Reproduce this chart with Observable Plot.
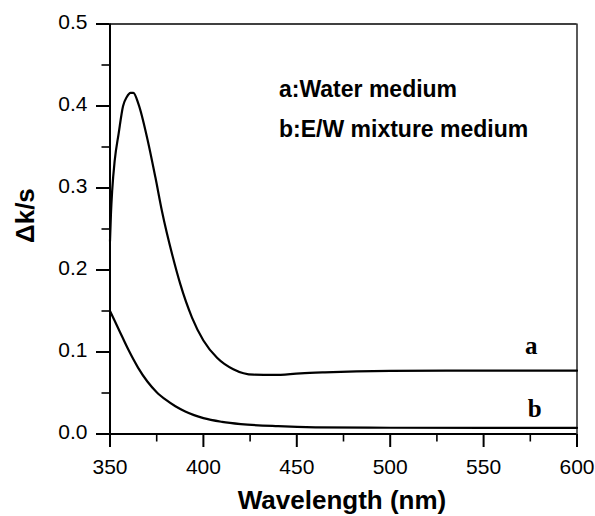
<!DOCTYPE html>
<html>
<head>
<meta charset="utf-8">
<script src="https://cdn.jsdelivr.net/npm/d3@7"></script>
<script src="https://cdn.jsdelivr.net/npm/@observablehq/plot@0.6"></script>
<style>
  html, body { margin: 0; padding: 0; background: #fff; }
  #chart svg { display: block; }
</style>
</head>
<body>
<div id="chart"></div>
<script>
// Curve a: water medium
const waveA = [350, 350.5, 351.2, 352.5, 354.6, 357, 359, 361, 362.5, 365.3, 369.8, 374.3, 377.8, 383.5, 387.6, 393.9, 400, 407.3, 416, 427, 437.6, 452, 465, 482, 500, 530, 600];
const valA  = [0.235, 0.268, 0.298, 0.333, 0.366, 0.400, 0.411, 0.416, 0.416, 0.402, 0.362, 0.313, 0.272, 0.217, 0.183, 0.142, 0.114, 0.093, 0.079, 0.0723, 0.072, 0.074, 0.0752, 0.0764, 0.0770, 0.0772, 0.0772];
// Curve b: E/W mixture medium
const waveB = [350, 355, 360, 365, 370, 375, 380, 385, 390, 395, 400, 410, 420, 440, 460, 500, 600];
const valB  = [0.150, 0.126, 0.102, 0.081, 0.064, 0.051, 0.0415, 0.0338, 0.0278, 0.0230, 0.0193, 0.0148, 0.0121, 0.0095, 0.0082, 0.0076, 0.0074];

const xDomain = [350, 600];
const yDomain = [0, 0.5];
const xTicks = [350, 400, 450, 500, 550, 600];
const xMinor = [375, 425, 475, 525, 575];
const yTicks = [0, 0.1, 0.2, 0.3, 0.4, 0.5];
const yMinor = [0.05, 0.15, 0.25, 0.35, 0.45];

const xTitle = "Wavelength (nm)";
const yTitle = "\u0394k/s";
const legendLines = ["a:Water medium", "b:E/W mixture medium"];
const curveLabels = ["a", "b"];

const dataA = waveA.map((w, i) => ({w, v: valA[i]}));
const dataB = waveB.map((w, i) => ({w, v: valB[i]}));

const sans = "'Liberation Sans', Arial, Helvetica, sans-serif";
const serif = "'Liberation Serif', 'Times New Roman', serif";

const W = 595, H = 516, mL = 109.5, mR = 18.5, mT = 23.5, mB = 82.5;
// data units per pixel, so tick lengths can be given in pixels
const ky = (yDomain[1] - yDomain[0]) / (H - mT - mB);
const kx = (xDomain[1] - xDomain[0]) / (W - mL - mR);
const majorLen = 13.5, minorLen = 8;

const chart = Plot.plot({
  width: W,
  height: H,
  marginLeft: mL,
  marginRight: mR,
  marginTop: mT,
  marginBottom: mB,
  style: {fontFamily: sans, fontSize: "21px", color: "#000", background: "#fff"},
  x: {domain: xDomain, label: null},
  y: {domain: yDomain, label: null},
  marks: [
    // tick marks (outward), drawn as rules in data units
    Plot.ruleX(xTicks, {x: d => d, y1: yDomain[0], y2: yDomain[0] - majorLen * ky, stroke: "#000", strokeWidth: 2}),
    Plot.ruleX(xMinor, {x: d => d, y1: yDomain[0], y2: yDomain[0] - minorLen * ky, stroke: "#000", strokeWidth: 1.6}),
    Plot.ruleY(yTicks, {y: d => d, x1: xDomain[0] - majorLen * kx, x2: xDomain[0], stroke: "#000", strokeWidth: 2}),
    Plot.ruleY(yMinor, {y: d => d, x1: xDomain[0] - minorLen * kx, x2: xDomain[0], stroke: "#000", strokeWidth: 1.6}),
    // frame
    Plot.ruleY([yDomain[1]], {x1: xDomain[0], x2: xDomain[1], stroke: "#000", strokeWidth: 1.3}),
    Plot.ruleX([xDomain[1]], {y1: yDomain[0], y2: yDomain[1], stroke: "#000", strokeWidth: 1.3}),
    Plot.ruleY([yDomain[0]], {x1: xDomain[0], x2: xDomain[1], stroke: "#000", strokeWidth: 2}),
    Plot.ruleX([xDomain[0]], {y1: yDomain[0], y2: yDomain[1], stroke: "#000", strokeWidth: 2}),
    // tick labels
    Plot.axisX(xTicks, {tickSize: 0, tickPadding: 25, fontSize: 21, label: null}),
    Plot.axisY(yTicks, {tickSize: 0, tickPadding: 22.5, fontSize: 21, tickFormat: d3.format(".1f"), dy: -2, label: null}),
    // curves
    Plot.line(dataA, {x: "w", y: "v", stroke: "#000", strokeWidth: 2.2, curve: "monotone-x"}),
    Plot.line(dataB, {x: "w", y: "v", stroke: "#000", strokeWidth: 2.2, curve: "monotone-x"}),
    // axis titles
    Plot.text([xTitle], {frameAnchor: "bottom", text: d => d, dx: -1.5, dy: 74.5, lineAnchor: "bottom",
      fontSize: 26, fontWeight: "bold", fill: "#000"}),
    Plot.text([yTitle], {frameAnchor: "left", text: d => d, dx: -76.5, dy: 14, rotate: -90, lineAnchor: "bottom",
      fontSize: 26, fontWeight: "bold", fill: "#000"}),
    // legend
    Plot.text([legendLines[0]], {frameAnchor: "top-left", text: d => d, dx: 169, dy: 73.2, textAnchor: "start",
      lineAnchor: "bottom", fontSize: 23, fontWeight: "bold", fill: "#000"}),
    Plot.text([legendLines[1]], {frameAnchor: "top-left", text: d => d, dx: 169, dy: 112.5, textAnchor: "start",
      lineAnchor: "bottom", fontSize: 23, fontWeight: "bold", fill: "#000"}),
    // curve labels
    Plot.text([curveLabels[0]], {x: 575.5, y: 0.098, text: d => d, lineAnchor: "bottom",
      fontFamily: serif, fontSize: 25, fontWeight: "bold", fill: "#000"}),
    Plot.text([curveLabels[1]], {x: 577.4, y: 0.0202, text: d => d, lineAnchor: "bottom",
      fontFamily: serif, fontSize: 25, fontWeight: "bold", fill: "#000"})
  ]
});
document.getElementById("chart").append(chart);
</script>
</body>
</html>
